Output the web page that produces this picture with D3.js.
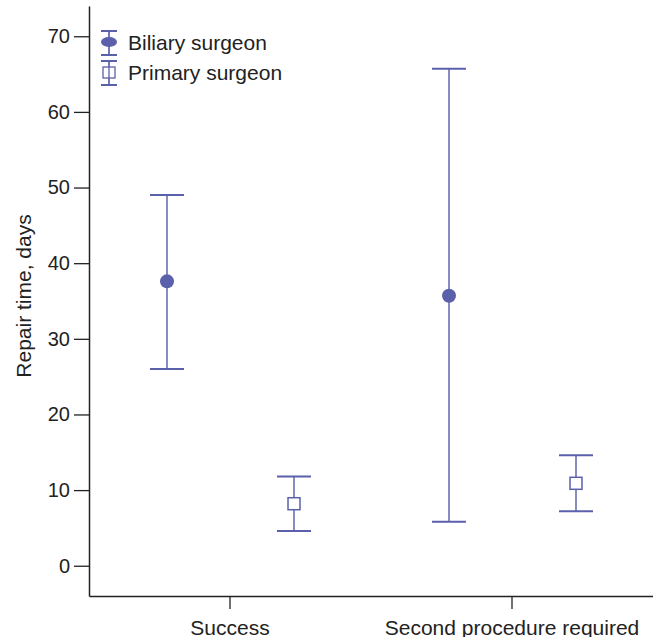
<!DOCTYPE html>
<html>
<head>
<meta charset="utf-8">
<script src="https://cdn.jsdelivr.net/npm/d3@7"></script>
<style>
  body { margin: 0; background: #fff; }
  text { font-family: "Liberation Sans", Arial, sans-serif; fill: #222; }
</style>
</head>
<body>
<div id="chart"></div>
<script>
// data
const outcomes = ["Success", "Second procedure required"];
const groups = ["Biliary surgeon", "Primary surgeon"];
const biliaryMean = [37.6, 35.7];
const biliaryLow = [26.0, 5.8];
const biliaryHigh = [49.0, 65.7];
const primaryMean = [8.2, 10.9];
const primaryLow = [4.6, 7.2];
const primaryHigh = [11.8, 14.6];
const yTicks = [0, 10, 20, 30, 40, 50, 60, 70];

const svgWidth = 653;
const svgHeight = 637;
const margin = { top: 6, right: 0, bottom: 41, left: 89 };
const width = svgWidth - margin.left - margin.right;
const height = svgHeight - margin.top - margin.bottom;
const color = "#5b60ab";

const svg = d3.select("#chart")
    .append("svg")
    .attr("width", svgWidth)
    .attr("height", svgHeight);

const chartGroup = svg.append("g")
    .attr("transform", `translate(${margin.left}, ${margin.top})`);

const xScale = d3.scaleBand()
    .domain(outcomes)
    .range([0, width]);

const offset = d3.scalePoint()
    .domain(groups)
    .range([-63, 64]);

const yScale = d3.scaleLinear()
    .domain([-4, 74])
    .range([height, 0]);

// axes
const leftAxis = d3.axisLeft(yScale).tickValues(yTicks).tickSize(15).tickPadding(4).tickSizeOuter(0);
const yAxis = chartGroup.append("g").call(leftAxis);
const bottomAxis = d3.axisBottom(xScale).tickSize(13).tickPadding(11).tickSizeOuter(0);
const xAxis = chartGroup.append("g")
    .attr("transform", `translate(0, ${height})`)
    .call(bottomAxis);

[yAxis, xAxis].forEach(ax => {
    ax.select(".domain").attr("stroke", "#222").attr("stroke-width", 1.5);
    ax.selectAll(".tick line").attr("stroke", "#222").attr("stroke-width", 1.3);
    ax.selectAll("text").attr("fill", "#222");
});
yAxis.selectAll("text").style("font-size", "20px");
xAxis.selectAll("text").style("font-size", "21px");

chartGroup.append("text")
    .attr("transform", "rotate(-90)")
    .attr("x", -(yScale(35) - 5))
    .attr("y", -58)
    .attr("text-anchor", "middle")
    .style("font-size", "21px")
    .text("Repair time, days");

// build rows
const rows = [];
outcomes.forEach((o, i) => {
    rows.push({ outcome: o, group: groups[0], mean: biliaryMean[i], low: biliaryLow[i], high: biliaryHigh[i] });
    rows.push({ outcome: o, group: groups[1], mean: primaryMean[i], low: primaryLow[i], high: primaryHigh[i] });
});
const cx = d => xScale(d.outcome) + xScale.bandwidth() / 2 + offset(d.group);
const capHalf = 17;

const bars = chartGroup.selectAll(".bar")
    .data(rows)
    .enter()
    .append("g")
    .attr("class", "bar");

bars.append("line")
    .attr("x1", cx).attr("x2", cx)
    .attr("y1", d => yScale(d.low)).attr("y2", d => yScale(d.high))
    .attr("stroke", color).attr("stroke-width", 1.7).attr("opacity", 0.85);

bars.append("line")
    .attr("x1", d => cx(d) - capHalf).attr("x2", d => cx(d) + capHalf)
    .attr("y1", d => yScale(d.high)).attr("y2", d => yScale(d.high))
    .attr("stroke", color).attr("stroke-width", 2);

bars.append("line")
    .attr("x1", d => cx(d) - capHalf).attr("x2", d => cx(d) + capHalf)
    .attr("y1", d => yScale(d.low)).attr("y2", d => yScale(d.low))
    .attr("stroke", color).attr("stroke-width", 2);

bars.filter(d => d.group === groups[0])
    .append("circle")
    .attr("cx", cx).attr("cy", d => yScale(d.mean))
    .attr("r", 7)
    .attr("fill", color);

bars.filter(d => d.group === groups[1])
    .append("rect")
    .attr("x", d => cx(d) - 6).attr("y", d => yScale(d.mean) - 6)
    .attr("width", 12).attr("height", 12)
    .attr("fill", "#fff")
    .attr("stroke", color).attr("stroke-width", 1.5);

// legend
const legend = svg.append("g").attr("transform", "translate(109, 31)");
const legendItems = legend.selectAll(".item")
    .data(groups)
    .enter()
    .append("g")
    .attr("transform", (d, i) => `translate(0, ${i * 30})`);

legendItems.append("line")
    .attr("y1", 0).attr("y2", 24)
    .attr("stroke", color).attr("stroke-width", 1.7);
legendItems.append("line")
    .attr("x1", -8).attr("x2", 8).attr("y1", 0).attr("y2", 0)
    .attr("stroke", color).attr("stroke-width", 2);
legendItems.append("line")
    .attr("x1", -8).attr("x2", 8).attr("y1", 24).attr("y2", 24)
    .attr("stroke", color).attr("stroke-width", 2);
legendItems.filter((d, i) => i === 0)
    .append("ellipse")
    .attr("cy", 11).attr("rx", 8).attr("ry", 5)
    .attr("fill", color);
legendItems.filter((d, i) => i === 1)
    .append("rect")
    .attr("x", -6).attr("y", 6).attr("width", 12).attr("height", 11)
    .attr("fill", "#fff").attr("stroke", color).attr("stroke-width", 1.3);
legendItems.filter((d, i) => i === 1)
    .append("line")
    .attr("y1", 6).attr("y2", 17)
    .attr("stroke", color).attr("stroke-width", 1.3);
legendItems.append("text")
    .attr("x", 19)
    .attr("y", 12)
    .attr("dy", "0.35em")
    .style("font-size", "21px")
    .text(d => d);
</script>
</body>
</html>
